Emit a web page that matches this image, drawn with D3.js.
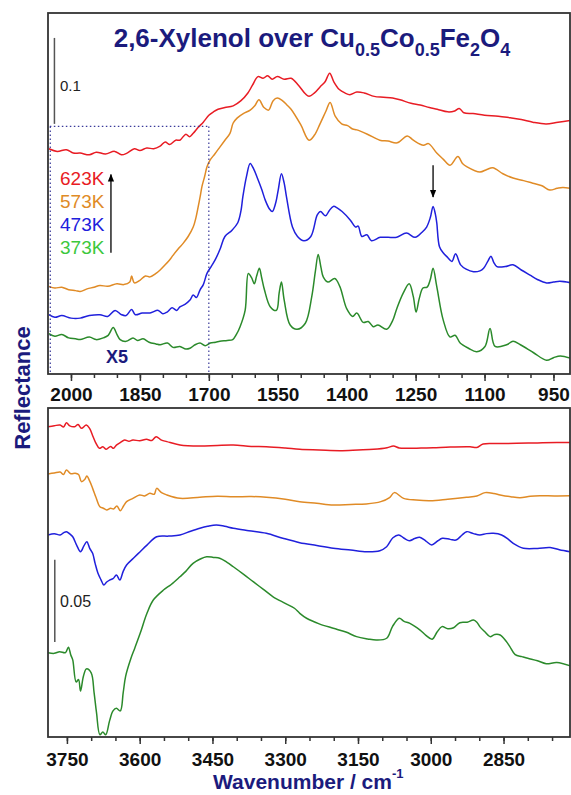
<!DOCTYPE html>
<meta charset="utf-8">
<head>
  <script src="https://cdn.jsdelivr.net/npm/d3@7"></script>
  <style>
    body { margin: 0; background: #fff; }
    text { font-family: "Liberation Sans", Arial, sans-serif; }
  </style>
</head>
<body>
<script type="text/javascript">

// top panel: 2050-914 cm-1, bottom panel: 3789-2713 cm-1
// values are reflectance (with stacking offsets), [wavenumber, R]
var topRed = [[2048,0.262],[2030,0.259],[2010,0.261],[1995,0.257],[1980,0.257],[1960,0.255],[1945,0.258],[1925,0.256],[1905,0.259],[1890,0.255],[1878,0.257],[1862,0.262],[1850,0.260],[1835,0.263],[1820,0.262],[1806,0.265],[1795,0.270],[1785,0.267],[1772,0.272],[1763,0.272],[1750,0.279],[1742,0.276],[1734,0.280],[1723,0.287],[1712,0.293],[1700,0.301],[1690,0.305],[1680,0.308],[1665,0.310],[1647,0.312],[1630,0.318],[1615,0.327],[1605,0.336],[1593,0.346],[1582,0.344],[1572,0.347],[1562,0.343],[1551,0.346],[1536,0.343],[1521,0.344],[1505,0.336],[1490,0.326],[1482,0.323],[1470,0.327],[1458,0.334],[1447,0.340],[1437,0.350],[1428,0.340],[1416,0.331],[1404,0.327],[1393,0.325],[1378,0.328],[1362,0.327],[1340,0.323],[1320,0.322],[1300,0.321],[1284,0.319],[1260,0.315],[1240,0.313],[1220,0.310],[1203,0.308],[1180,0.305],[1165,0.306],[1155,0.309],[1145,0.304],[1125,0.303],[1100,0.301],[1070,0.300],[1044,0.298],[1020,0.296],[995,0.293],[966,0.291],[940,0.293],[911,0.295]];

var topOrange = [[2048,0.102],[2035,0.100],[2020,0.101],[2005,0.098],[1990,0.097],[1980,0.096],[1965,0.099],[1950,0.101],[1937,0.103],[1920,0.102],[1900,0.105],[1885,0.104],[1872,0.107],[1868,0.114],[1862,0.106],[1850,0.109],[1838,0.114],[1828,0.113],[1815,0.117],[1806,0.121],[1795,0.127],[1785,0.133],[1778,0.138],[1766,0.146],[1756,0.152],[1745,0.160],[1734,0.171],[1728,0.182],[1723,0.195],[1719,0.206],[1715,0.218],[1709,0.230],[1704,0.241],[1697,0.249],[1687,0.256],[1676,0.264],[1665,0.272],[1654,0.280],[1647,0.292],[1638,0.298],[1625,0.303],[1610,0.307],[1600,0.312],[1591,0.319],[1580,0.310],[1570,0.307],[1560,0.318],[1551,0.321],[1540,0.318],[1530,0.313],[1521,0.308],[1500,0.290],[1482,0.272],[1470,0.278],[1458,0.291],[1445,0.306],[1436,0.316],[1425,0.300],[1411,0.291],[1398,0.289],[1387,0.285],[1378,0.284],[1355,0.279],[1328,0.272],[1310,0.271],[1290,0.269],[1268,0.277],[1255,0.272],[1233,0.266],[1222,0.268],[1204,0.257],[1190,0.250],[1175,0.243],[1158,0.253],[1148,0.245],[1138,0.241],[1110,0.235],[1095,0.238],[1082,0.240],[1060,0.233],[1038,0.228],[1015,0.225],[995,0.222],[975,0.219],[958,0.214],[942,0.216],[930,0.217],[911,0.216]];

var topBlue = [[2048,0.069],[2035,0.066],[2020,0.068],[2000,0.065],[1980,0.065],[1960,0.068],[1937,0.069],[1920,0.067],[1904,0.074],[1890,0.069],[1880,0.068],[1868,0.075],[1860,0.069],[1845,0.071],[1828,0.071],[1810,0.074],[1800,0.070],[1791,0.072],[1780,0.077],[1770,0.074],[1763,0.078],[1752,0.081],[1741,0.086],[1734,0.092],[1727,0.089],[1719,0.098],[1712,0.104],[1704,0.117],[1695,0.125],[1686,0.133],[1675,0.146],[1665,0.160],[1650,0.167],[1637,0.176],[1630,0.190],[1626,0.206],[1618,0.230],[1610,0.245],[1602,0.238],[1595,0.229],[1585,0.215],[1577,0.202],[1568,0.192],[1562,0.189],[1555,0.198],[1549,0.214],[1542,0.233],[1536,0.222],[1531,0.206],[1518,0.171],[1507,0.160],[1493,0.155],[1478,0.160],[1464,0.185],[1457,0.189],[1446,0.184],[1438,0.190],[1429,0.195],[1420,0.193],[1410,0.189],[1392,0.179],[1381,0.171],[1375,0.172],[1367,0.160],[1356,0.162],[1346,0.155],[1327,0.159],[1310,0.159],[1291,0.159],[1270,0.164],[1251,0.159],[1236,0.165],[1226,0.171],[1218,0.182],[1212,0.195],[1207,0.186],[1204,0.176],[1198,0.148],[1190,0.141],[1181,0.136],[1171,0.131],[1163,0.140],[1152,0.127],[1140,0.122],[1124,0.119],[1110,0.120],[1102,0.123],[1092,0.132],[1086,0.137],[1080,0.130],[1073,0.125],[1055,0.125],[1038,0.127],[1020,0.121],[1001,0.115],[985,0.110],[965,0.106],[950,0.107],[936,0.108],[911,0.106]];

var topGreen = [[2048,0.047],[2035,0.044],[2020,0.046],[2005,0.042],[1990,0.041],[1980,0.040],[1960,0.043],[1945,0.040],[1930,0.042],[1919,0.045],[1908,0.054],[1900,0.046],[1893,0.040],[1880,0.038],[1865,0.042],[1855,0.039],[1843,0.041],[1830,0.037],[1815,0.035],[1806,0.034],[1790,0.036],[1778,0.031],[1763,0.032],[1750,0.029],[1741,0.030],[1730,0.034],[1719,0.036],[1708,0.033],[1697,0.036],[1685,0.037],[1676,0.038],[1660,0.039],[1648,0.040],[1640,0.046],[1632,0.055],[1621,0.074],[1614,0.117],[1607,0.112],[1601,0.105],[1596,0.114],[1590,0.123],[1585,0.112],[1579,0.098],[1566,0.078],[1553,0.074],[1547,0.094],[1542,0.107],[1536,0.086],[1523,0.057],[1508,0.052],[1490,0.059],[1476,0.090],[1468,0.120],[1462,0.139],[1456,0.124],[1451,0.113],[1441,0.107],[1426,0.111],[1415,0.102],[1400,0.076],[1387,0.067],[1378,0.071],[1364,0.060],[1353,0.061],[1342,0.055],[1332,0.057],[1313,0.052],[1300,0.062],[1291,0.076],[1277,0.094],[1264,0.105],[1255,0.090],[1249,0.072],[1242,0.088],[1234,0.100],[1225,0.101],[1218,0.110],[1212,0.123],[1204,0.102],[1190,0.063],[1175,0.043],[1164,0.045],[1153,0.036],[1135,0.030],[1117,0.026],[1099,0.032],[1088,0.053],[1077,0.032],[1052,0.034],[1038,0.038],[1022,0.034],[994,0.025],[965,0.016],[950,0.019],[935,0.021],[911,0.018]];

var botRed = [[3789,0.1892],[3776,0.1898],[3764,0.1902],[3757,0.1890],[3751,0.1916],[3744,0.1897],[3734,0.1892],[3727,0.1905],[3720,0.1882],[3710,0.1902],[3703,0.1880],[3696,0.1831],[3690,0.1790],[3683,0.1760],[3676,0.1770],[3669,0.1754],[3660,0.1772],[3654,0.1760],[3648,0.1780],[3640,0.1795],[3631,0.1811],[3622,0.1803],[3614,0.1811],[3600,0.1806],[3586,0.1815],[3575,0.1808],[3566,0.1831],[3555,0.1810],[3544,0.1801],[3517,0.1780],[3476,0.1774],[3440,0.1778],[3407,0.1780],[3370,0.1772],[3339,0.1770],[3300,0.1762],[3270,0.1754],[3230,0.1750],[3187,0.1746],[3150,0.1750],[3118,0.1754],[3090,0.1764],[3077,0.1774],[3065,0.1762],[3050,0.1760],[3020,0.1762],[2995,0.1764],[2960,0.1768],[2919,0.1770],[2905,0.1765],[2892,0.1787],[2860,0.1789],[2823,0.1791],[2780,0.1793],[2740,0.1795],[2713,0.1795]];

var botOrange = [[3789,0.1604],[3776,0.1610],[3764,0.1616],[3757,0.1600],[3751,0.1628],[3742,0.1605],[3733,0.1608],[3726,0.1600],[3720,0.1557],[3713,0.1572],[3709,0.1591],[3703,0.1560],[3697,0.1516],[3690,0.1460],[3682,0.1404],[3675,0.1395],[3668,0.1384],[3660,0.1395],[3654,0.1390],[3647,0.1409],[3640,0.1380],[3633,0.1410],[3627,0.1435],[3614,0.1455],[3600,0.1476],[3590,0.1470],[3579,0.1486],[3570,0.1480],[3565,0.1516],[3555,0.1490],[3544,0.1476],[3517,0.1455],[3476,0.1462],[3440,0.1468],[3407,0.1465],[3370,0.1466],[3339,0.1462],[3300,0.1450],[3270,0.1435],[3235,0.1425],[3201,0.1415],[3165,0.1418],[3133,0.1421],[3103,0.1435],[3085,0.1460],[3075,0.1490],[3056,0.1455],[3030,0.1445],[3001,0.1441],[2965,0.1450],[2926,0.1462],[2905,0.1470],[2888,0.1490],[2870,0.1485],[2857,0.1476],[2835,0.1465],[2816,0.1459],[2795,0.1468],[2775,0.1471],[2745,0.1470],[2713,0.1471]];

var botBlue = [[3789,0.1232],[3776,0.1240],[3764,0.1232],[3757,0.1245],[3751,0.1252],[3744,0.1238],[3738,0.1221],[3730,0.1170],[3722,0.1130],[3715,0.1165],[3709,0.1191],[3703,0.1150],[3697,0.1120],[3692,0.1060],[3686,0.0998],[3680,0.0960],[3674,0.0927],[3668,0.0945],[3662,0.0957],[3655,0.0965],[3648,0.0988],[3641,0.0957],[3634,0.1010],[3627,0.1049],[3613,0.1090],[3599,0.1130],[3585,0.1170],[3565,0.1221],[3540,0.1225],[3517,0.1232],[3495,0.1255],[3476,0.1273],[3460,0.1285],[3442,0.1293],[3425,0.1285],[3407,0.1273],[3375,0.1258],[3339,0.1242],[3305,0.1212],[3270,0.1185],[3235,0.1168],[3201,0.1151],[3165,0.1140],[3132,0.1130],[3105,0.1136],[3091,0.1160],[3078,0.1215],[3066,0.1232],[3055,0.1212],[3044,0.1197],[3033,0.1210],[3023,0.1218],[3010,0.1195],[2998,0.1171],[2986,0.1195],[2976,0.1212],[2960,0.1205],[2948,0.1201],[2936,0.1230],[2926,0.1252],[2912,0.1240],[2899,0.1232],[2885,0.1240],[2871,0.1242],[2854,0.1232],[2840,0.1205],[2830,0.1181],[2809,0.1151],[2780,0.1150],[2754,0.1155],[2735,0.1142],[2713,0.1130]];

var botGreen = [[3789,0.0514],[3776,0.0510],[3765,0.0520],[3753,0.0514],[3747,0.0547],[3742,0.0500],[3738,0.0470],[3731,0.0336],[3726,0.0350],[3722,0.0280],[3716,0.0370],[3710,0.0415],[3700,0.0391],[3694,0.0270],[3689,0.0148],[3682,0.0014],[3676,0.0030],[3670,0.0014],[3662,0.0100],[3655,0.0159],[3648,0.0175],[3640,0.0159],[3634,0.0270],[3629,0.0370],[3618,0.0480],[3610,0.0543],[3599,0.0632],[3585,0.0754],[3572,0.0835],[3551,0.0896],[3535,0.0930],[3517,0.0977],[3505,0.1010],[3490,0.1059],[3475,0.1085],[3462,0.1099],[3448,0.1095],[3435,0.1090],[3420,0.1065],[3407,0.1038],[3385,0.0990],[3366,0.0947],[3345,0.0900],[3325,0.0855],[3300,0.0815],[3281,0.0785],[3270,0.0754],[3256,0.0724],[3230,0.0690],[3201,0.0663],[3175,0.0640],[3153,0.0612],[3130,0.0598],[3112,0.0591],[3091,0.0602],[3079,0.0673],[3065,0.0724],[3055,0.0705],[3043,0.0693],[3022,0.0652],[3010,0.0620],[2997,0.0596],[2987,0.0640],[2977,0.0673],[2965,0.0660],[2953,0.0666],[2940,0.0697],[2925,0.0700],[2912,0.0713],[2905,0.0700],[2899,0.0673],[2888,0.0640],[2878,0.0612],[2868,0.0625],[2857,0.0622],[2845,0.0585],[2837,0.0551],[2826,0.0502],[2812,0.0490],[2800,0.0480],[2780,0.0465],[2762,0.0447],[2740,0.0454],[2711,0.0432]];

var temps = ["623K", "573K", "473K", "373K"];
var lineColors = ["#e81c24", "#e08b26", "#2020dc", "#2b8a2b"];
var legendColors = ["#e81c24", "#e08b26", "#2020dc", "#3cc83c"];

var topTicks = d3.range(2000, 949, -150);
var topMinor = d3.range(2000, 949, -50);
var botTicks = d3.range(3750, 2849, -150);
var botMinor = d3.range(3750, 2749, -50);

var navy = "#1b1b7d";
var w = 571, h = 795;

var svg = d3.select("body").append("svg")
    .attr("width", w)
    .attr("height", h);

var xTop = d3.scaleLinear().domain([2050, 914]).range([48, 570]);
var yTop = d3.scaleLinear().domain([0, 0.42]).range([374, 13]);
var xBot = d3.scaleLinear().domain([3789, 2713]).range([48, 570]);
var yBot = d3.scaleLinear().domain([0, 0.2006]).range([737, 408]);

var defs = svg.append("defs");
defs.append("clipPath").attr("id", "clipTop").append("rect")
    .attr("x", 48).attr("y", 13).attr("width", 522).attr("height", 361);
defs.append("clipPath").attr("id", "clipBot").append("rect")
    .attr("x", 48).attr("y", 408).attr("width", 522).attr("height", 329);
defs.append("marker").attr("id", "head")
    .attr("viewBox", "0 0 10 10").attr("refX", 9).attr("refY", 5)
    .attr("markerWidth", 6).attr("markerHeight", 6).attr("orient", "auto")
  .append("path").attr("d", "M0,1 L10,5 L0,9 z").attr("fill", "#000");

function drawAxis(x, y0, majors, minors, pad) {
  svg.append("g")
    .attr("transform", "translate(0," + y0 + ")")
    .call(d3.axisBottom(x).tickValues(minors).tickSize(4).tickFormat(""))
    .call(function(g){ g.select(".domain").remove(); })
    .selectAll("line").attr("stroke", "#333").attr("stroke-width", 1.5);
  var ax = svg.append("g")
    .attr("transform", "translate(0," + y0 + ")")
    .call(d3.axisBottom(x).tickValues(majors).tickSize(7).tickPadding(pad).tickFormat(d3.format("d")));
  ax.select(".domain").remove();
  ax.selectAll("line").attr("stroke", "#333").attr("stroke-width", 1.5);
  ax.selectAll("text")
    .attr("font-family", "'Liberation Sans', Arial, sans-serif")
    .attr("font-size", 19).attr("font-weight", "bold").attr("fill", "#111");
}

function drawPanel(x, y, clip, series) {
  var line = d3.line()
    .x(function(d){ return x(d[0]); })
    .y(function(d){ return y(d[1]); })
    .curve(d3.curveCatmullRom.alpha(0.5));
  var g = svg.append("g").attr("clip-path", "url(#" + clip + ")");
  series.forEach(function(s, i){
    g.append("path")
      .attr("d", line(s))
      .attr("fill", "none")
      .attr("stroke", lineColors[i])
      .attr("stroke-width", 1.5);
  });
  svg.append("rect")
    .attr("x", x.range()[0]).attr("y", y.range()[1])
    .attr("width", x.range()[1] - x.range()[0])
    .attr("height", y.range()[0] - y.range()[1])
    .attr("fill", "none").attr("stroke", "#333").attr("stroke-width", 1.8);
}

drawPanel(xTop, yTop, "clipTop", [topRed, topOrange, topBlue, topGreen]);
drawPanel(xBot, yBot, "clipBot", [botRed, botOrange, botBlue, botGreen]);
drawAxis(xTop, 374, topTicks, topMinor, 6.5);
drawAxis(xBot, 737, botTicks, botMinor, 8.5);

// dotted guide box at 1700 cm-1
var dotted = svg.append("g").attr("stroke", "#3a3a9a").attr("stroke-width", 1.2)
    .attr("stroke-dasharray", "1.5,2.5");
dotted.append("line").attr("x1", xTop(2046)).attr("x2", xTop(1700))
    .attr("y1", yTop(0.288)).attr("y2", yTop(0.288));
dotted.append("line").attr("x1", xTop(1700)).attr("x2", xTop(1700))
    .attr("y1", yTop(0.288)).attr("y2", yTop(0));
dotted.append("line").attr("x1", xTop(2045)).attr("x2", xTop(2045))
    .attr("y1", yTop(0.288)).attr("y2", yTop(0));

// scale bars
svg.append("line").attr("x1", xTop(2036)).attr("x2", xTop(2036))
    .attr("y1", yTop(0.291)).attr("y2", yTop(0.391))
    .attr("stroke", "#555").attr("stroke-width", 1.5);
svg.append("text").attr("x", 60).attr("y", 91)
    .attr("font-size", 15).attr("fill", "#222").text("0.1");
svg.append("line").attr("x1", xBot(3775)).attr("x2", xBot(3775))
    .attr("y1", yBot(0.058)).attr("y2", yBot(0.108))
    .attr("stroke", "#555").attr("stroke-width", 1.5);
svg.append("text").attr("x", 60).attr("y", 607)
    .attr("font-size", 16).attr("fill", "#222").text("0.05");

// legend
svg.selectAll("text.leg")
  .data(temps)
  .enter()
  .append("text")
  .attr("class", "leg")
  .attr("x", 60)
  .attr("y", function(d, i){ return 185 + i * 23; })
  .attr("font-size", 19)
  .attr("fill", function(d, i){ return legendColors[i]; })
  .text(function(d){ return d; });

svg.append("line").attr("x1", xTop(1913)).attr("x2", xTop(1913))
    .attr("y1", yTop(0.141)).attr("y2", yTop(0.232))
    .attr("stroke", "#000").attr("stroke-width", 1.3)
    .attr("marker-end", "url(#head)");

svg.append("line").attr("x1", xTop(1212)).attr("x2", xTop(1212))
    .attr("y1", yTop(0.243)).attr("y2", yTop(0.206))
    .attr("stroke", "#000").attr("stroke-width", 1.3)
    .attr("marker-end", "url(#head)");

svg.append("text").attr("x", 117).attr("y", 363)
    .attr("text-anchor", "middle").attr("font-size", 18).attr("font-weight", "bold")
    .attr("fill", navy).text("X5");

// title with subscripts
var title = svg.append("text").attr("x", 312).attr("y", 47)
    .attr("text-anchor", "middle").attr("font-size", 26).attr("font-weight", "bold")
    .attr("fill", navy);
var parts = [["2,6-Xylenol over Cu", 0], ["0.5", 1], ["Co", 0], ["0.5", 1], ["Fe", 0], ["2", 1], ["O", 0], ["4", 1]];
var prev = 0;
parts.forEach(function(p){
  var shift = p[1] ? 9 : 0;
  title.append("tspan")
    .attr("dy", shift - prev)
    .attr("font-size", p[1] ? 18 : 26)
    .text(p[0]);
  prev = shift;
});

// axis titles
svg.append("text")
    .attr("transform", "translate(30,388) rotate(-90)")
    .attr("text-anchor", "middle").attr("font-size", 22).attr("font-weight", "bold")
    .attr("fill", navy).text("Reflectance");

var xt = svg.append("text").attr("x", 213).attr("y", 789)
    .attr("font-size", 21).attr("font-weight", "bold").attr("fill", navy);
xt.append("tspan").text("Wavenumber / cm");
xt.append("tspan").attr("dy", -11).attr("font-size", 13).text("-1");

</script>
</body>
